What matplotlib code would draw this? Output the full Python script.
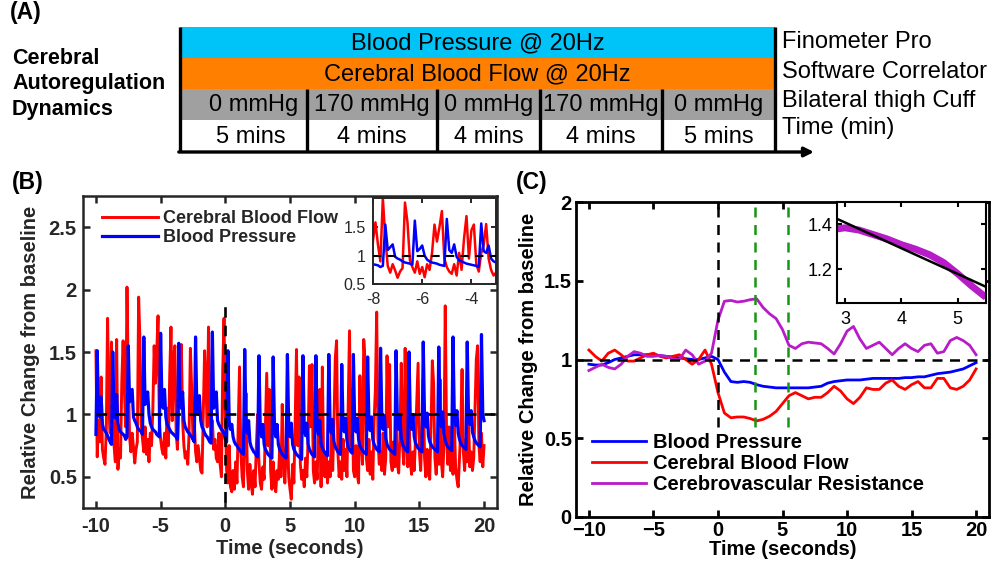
import numpy as np
import matplotlib
matplotlib.use("Agg")
import matplotlib.pyplot as plt
from matplotlib.patches import Rectangle

plt.rcParams['font.family'] = ['Liberation Sans', 'DejaVu Sans']

# ---------------- Panel A (protocol diagram) ----------------
A_bands = ["Blood Pressure @ 20Hz", "Cerebral Blood Flow @ 20Hz"]
A_band_colors = ["#00C4F8", "#FF8000"]
A_pressures = ["0 mmHg", "170 mmHg", "0 mmHg", "170 mmHg", "0 mmHg"]
A_durations = ["5 mins", "4 mins", "4 mins", "4 mins", "5 mins"]
A_right = ["Finometer Pro", "Software Correlator", "Bilateral thigh Cuff", "Time (min)"]
A_left = ["Cerebral", "Autoregulation", "Dynamics"]

# ---------------- Panel B data (20 Hz signals, read at 0.1 s) ----------------
B_time = np.linspace(-10, 20, 301)
B_bp = [
    0.84, 1.51, 1.00, 0.98, 1.14, 0.92, 0.88, 0.87, 0.85, 0.83,
    0.80, 0.78, 0.76, 1.50, 1.02, 0.97, 1.16, 0.93, 0.88, 0.86,
    0.85, 0.84, 0.83, 0.80, 0.82, 1.55, 1.10, 1.15, 1.20, 0.98,
    0.95, 0.93, 0.90, 0.88, 0.87, 0.86, 0.84, 1.62, 1.08, 1.12,
    1.18, 1.00, 0.93, 0.90, 0.88, 0.87, 0.86, 0.84, 0.83, 0.82,
    1.65, 1.10, 1.05, 1.20, 0.98, 0.92, 0.90, 0.88, 0.86, 0.85,
    0.84, 0.83, 0.82, 0.80, 1.57, 1.08, 1.05, 1.18, 0.95, 0.90,
    0.88, 0.86, 0.85, 0.83, 0.82, 0.80, 0.78, 1.62, 1.05, 1.00,
    1.15, 0.95, 0.90, 0.88, 0.85, 0.83, 0.82, 0.80, 0.78, 0.77,
    1.66, 1.05, 1.10, 1.18, 0.95, 0.92, 0.90, 0.88, 0.87, 0.85,
    0.80, 0.78, 1.51, 0.95, 0.88, 0.92, 0.82, 0.78, 0.76, 0.75,
    0.73, 0.72, 0.70, 0.69, 0.68, 1.52, 0.92, 0.85, 0.95, 0.78,
    0.74, 0.72, 0.70, 0.69, 0.67, 0.66, 1.47, 0.90, 0.82, 0.92,
    0.76, 0.72, 0.70, 0.68, 0.67, 0.66, 0.65, 1.46, 0.90, 0.82,
    0.92, 0.76, 0.72, 0.70, 0.68, 0.67, 0.66, 0.65, 1.48, 0.90,
    0.82, 0.93, 0.76, 0.72, 0.70, 0.68, 0.67, 0.66, 0.65, 0.64,
    1.47, 0.90, 0.83, 0.93, 0.76, 0.72, 0.70, 0.68, 0.67, 0.66,
    1.47, 0.92, 0.84, 0.95, 0.77, 0.73, 0.71, 0.69, 0.68, 0.67,
    1.48, 0.92, 0.85, 0.96, 0.78, 0.74, 0.72, 0.70, 0.69, 0.68,
    1.40, 0.92, 0.86, 0.97, 0.79, 0.74, 0.72, 0.70, 0.69, 1.48,
    0.93, 0.86, 0.97, 0.80, 0.75, 0.73, 0.71, 0.70, 0.69, 0.68,
    1.46, 0.94, 0.87, 0.98, 0.80, 0.76, 0.74, 0.72, 0.71, 0.70,
    1.53, 0.95, 0.88, 0.99, 0.81, 0.76, 0.74, 0.72, 0.71, 0.70,
    0.69, 0.68, 1.51, 0.95, 0.88, 0.99, 0.81, 0.76, 0.74, 0.72,
    0.71, 0.70, 1.50, 0.95, 0.88, 1.00, 0.82, 0.77, 0.75, 0.73,
    0.72, 0.71, 0.70, 1.58, 0.97, 0.90, 1.01, 0.83, 0.78, 0.76,
    0.74, 0.73, 0.72, 0.71, 0.70, 1.54, 0.97, 0.90, 1.02, 0.84,
    0.79, 0.76, 0.74, 0.73, 0.72, 0.71, 1.62, 0.98, 0.91, 1.03,
    0.85, 0.80, 0.77, 0.75, 0.74, 0.73, 0.72, 1.58, 0.98, 0.92,
    1.03, 0.86, 0.82, 0.79, 0.77, 0.76, 0.75, 0.74, 1.64, 1.00,
    0.95,
]
B_cbf = [
    1.51, 0.66, 0.95, 0.78, 1.30, 0.72, 0.65, 0.60, 0.88, 1.77,
    1.10, 0.85, 1.58, 0.95, 0.75, 0.62, 1.60, 0.56, 0.72, 0.65,
    1.27, 1.59, 1.20, 0.90, 2.02, 1.30, 0.82, 0.70, 0.85, 0.74,
    0.61, 0.72, 0.78, 1.94, 1.60, 0.92, 0.80, 0.70, 0.90, 0.68,
    0.80, 0.62, 0.85, 0.75, 1.05, 1.55, 1.25, 1.50, 1.79, 0.95,
    0.80, 0.72, 0.68, 0.85, 0.65, 1.05, 0.75, 1.30, 1.70, 0.95,
    1.45, 1.55, 0.85, 0.72, 1.05, 1.20, 1.56, 0.95, 0.75, 0.65,
    0.70, 0.60, 0.85, 1.53, 1.20, 0.80, 0.95, 0.70, 0.62, 0.75,
    0.65, 0.55, 0.53, 1.00, 1.51, 1.25, 0.90, 1.70, 1.10, 0.80,
    0.95, 0.72, 0.80, 0.65, 0.62, 0.85, 0.60, 0.50, 1.35, 1.77,
    1.00, 0.55, 0.45, 0.75, 0.42, 0.38, 0.55, 0.40, 0.62, 0.45,
    0.90, 1.38, 0.70, 0.50, 0.42, 0.85, 1.17, 0.55, 0.40, 0.60,
    0.45, 0.36, 0.55, 0.42, 0.75, 1.00, 0.62, 0.45, 0.40, 0.58,
    0.48, 0.90, 1.33, 0.75, 1.20, 0.55, 0.40, 0.62, 0.45, 0.38,
    0.55, 0.48, 0.72, 0.50, 1.08, 0.65, 0.45, 0.70, 0.88, 0.50,
    0.40, 0.32, 0.60, 0.45, 0.95, 1.52, 0.75, 1.30, 0.60, 0.48,
    0.55, 0.42, 0.65, 0.50, 0.80, 1.39, 0.90, 1.40, 0.55, 0.45,
    0.62, 0.48, 0.90, 1.20, 0.42, 1.38, 0.60, 0.50, 0.70, 0.45,
    0.62, 0.50, 0.85, 0.55, 0.95, 1.45, 1.59, 0.70, 0.50, 0.62,
    0.48, 0.80, 0.55, 0.72, 0.50, 1.10, 1.67, 0.75, 1.20, 0.55,
    0.50, 0.75, 0.52, 0.45, 1.31, 0.80, 0.60, 1.60, 1.43, 0.65,
    0.55, 0.80, 0.52, 0.70, 0.48, 0.95, 1.20, 1.82, 0.80, 0.60,
    0.70, 0.55, 0.85, 0.52, 0.65, 1.47, 0.90, 1.40, 0.62, 0.55,
    0.78, 0.58, 0.90, 0.60, 0.53, 0.85, 1.41, 0.75, 0.60, 1.53,
    0.80, 0.58, 0.95, 0.62, 0.52, 0.70, 0.55, 0.80, 1.10, 1.41,
    0.70, 0.55, 0.85, 1.28, 0.65, 0.50, 0.72, 0.55, 0.48, 0.90,
    1.43, 1.25, 0.65, 0.52, 0.80, 0.60, 1.28, 0.62, 0.50, 0.75,
    1.87, 0.85, 0.60, 0.90, 0.55, 0.70, 0.52, 0.95, 0.58, 0.48,
    0.42, 0.65, 0.90, 1.36, 0.70, 0.55, 0.80, 0.62, 0.95, 0.58,
    0.70, 0.55, 0.65, 1.05, 1.44, 1.55, 0.75, 0.62, 0.85, 0.58,
    0.75,
]
B_xticks = [-10, -5, 0, 5, 10, 15, 20]
B_xticklabels = ['-10', '-5', '0', '5', '10', '15', '20']
B_yticks = [0.5, 1, 1.5, 2, 2.5]
B_yticklabels = ['0.5', '1', '1.5', '2', '2.5']
Bi_xticks = [-8, -6, -4]
Bi_xticklabels = ['-8', '-6', '-4']
Bi_yticks = [0.5, 1, 1.5]
Bi_yticklabels = ['0.5', '1', '1.5']

# ---------------- Panel C data (beat-averaged, read at 0.5 s) ----------------
C_time = np.linspace(-10, 20, 61)
C_bp = [
    0.97, 0.965, 0.965, 0.98, 1.00, 1.01, 1.02, 1.03, 1.03, 1.03,
    1.03, 1.025, 1.02, 1.015, 1.01, 1.005, 1.00, 1.00, 1.01, 1.02,
    1.00, 0.92, 0.86, 0.855, 0.86, 0.855, 0.84, 0.83, 0.825, 0.82,
    0.82, 0.82, 0.82, 0.82, 0.82, 0.825, 0.83, 0.85, 0.86, 0.865,
    0.87, 0.87, 0.87, 0.875, 0.88, 0.88, 0.88, 0.88, 0.88, 0.885,
    0.885, 0.89, 0.89, 0.90, 0.91, 0.915, 0.92, 0.93, 0.94, 0.96,
    0.98,
]
C_cbf = [
    1.06, 1.02, 0.99, 1.04, 1.06, 1.03, 0.99, 0.99, 1.01, 1.03,
    1.04, 1.02, 1.01, 1.02, 1.03, 1.00, 0.97, 1.00, 1.06, 0.97,
    0.79, 0.66, 0.63, 0.635, 0.635, 0.625, 0.61, 0.62, 0.64, 0.67,
    0.72, 0.77, 0.79, 0.77, 0.75, 0.76, 0.76, 0.79, 0.83, 0.80,
    0.75, 0.72, 0.76, 0.82, 0.81, 0.81, 0.85, 0.87, 0.83, 0.81,
    0.84, 0.86, 0.82, 0.82, 0.88, 0.88, 0.82, 0.81, 0.83, 0.87,
    0.94,
]
C_cvr = [
    0.93, 0.95, 0.97, 0.95, 0.94, 0.97, 1.02, 1.05, 1.04, 1.02,
    1.02, 1.025, 1.02, 1.005, 1.00, 1.06, 1.03, 0.97, 0.99, 1.04,
    1.25, 1.37, 1.375, 1.365, 1.37, 1.38, 1.385, 1.33, 1.29, 1.26,
    1.19, 1.09, 1.07, 1.10, 1.11, 1.105, 1.10, 1.07, 1.035, 1.10,
    1.18, 1.21, 1.13, 1.07, 1.09, 1.11, 1.07, 1.03, 1.07, 1.10,
    1.07, 1.05, 1.09, 1.10, 1.04, 1.05, 1.12, 1.14, 1.12, 1.09,
    1.03,
]
C_window = [2.9, 5.45]
C_xticks = [-10, -5, 0, 5, 10, 15, 20]
C_xticklabels = ['\u221210', '\u22125', '0', '5', '10', '15', '20']
C_yticks = [0, 0.5, 1, 1.5, 2]
C_yticklabels = ['0', '0.5', '1', '1.5', '2']

# inset of panel C: resistance during the window and its linear fit
Ci_time = [2.86, 3.0, 3.25, 3.5, 3.75, 4.0, 4.25, 4.5, 4.75, 5.0, 5.25, 5.5]
Ci_cvr = [1.38, 1.385, 1.375, 1.355, 1.335, 1.31, 1.29, 1.265, 1.23, 1.18, 1.125, 1.075]
Ci_fit_t = [2.86, 5.5]
Ci_fit_v = [1.425, 1.122]
Ci_xticks = [3, 4, 5]
Ci_yticks = [1.2, 1.4]
Ci_yticklabels = ['1.2', '1.4']

RED = '#FF0000'
BLUE = '#0000FF'
MAG = '#B81BC8'
GREEN = '#169616'
DARK = '#262626'
DASH = (0, (4, 3))

W, H = 992, 567
fig = plt.figure(figsize=(W / 100, H / 100), dpi=100)

def fax(l, t, r, b):
    return [l / W, (H - b) / H, (r - l) / W, (b - t) / H]

# ---------------- draw panel A in pixel space ----------------
ax0 = fig.add_axes([0, 0, 1, 1])
ax0.set_xlim(0, W)
ax0.set_ylim(H, 0)
ax0.axis('off')
cell_x = [180, 307, 437, 540, 662, 775]
row_y = [27, 58, 89, 120, 152]
for i, (lab, col) in enumerate(zip(A_bands, A_band_colors)):
    ax0.add_patch(Rectangle((cell_x[0], row_y[i]), cell_x[-1] - cell_x[0],
                            row_y[i + 1] - row_y[i], facecolor=col, edgecolor='none'))
    ax0.text((cell_x[0] + cell_x[-1]) / 2, (row_y[i] + row_y[i + 1]) / 2 + 1, lab,
             ha='center', va='center', fontsize=17)
ax0.add_patch(Rectangle((cell_x[0], row_y[2]), cell_x[-1] - cell_x[0],
                        row_y[3] - row_y[2], facecolor='#A0A0A0', edgecolor='none'))
for i in range(5):
    cx = (cell_x[i] + cell_x[i + 1]) / 2
    if i == 0:
        cx += 10
    ax0.text(cx, (row_y[2] + row_y[3]) / 2 + 1, A_pressures[i], ha='center', va='center', fontsize=17)
    ax0.text(cx - (3 if i == 0 else 0), (row_y[3] + row_y[4]) / 2 + 1, A_durations[i],
             ha='center', va='center', fontsize=17)
for x in cell_x[1:-1]:
    ax0.plot([x, x], [row_y[2], row_y[4]], color='black', lw=2.4, solid_capstyle='butt')
for x in [cell_x[0], cell_x[-1]]:
    ax0.plot([x, x], [row_y[0], row_y[4]], color='black', lw=2.4, solid_capstyle='butt')
ax0.annotate('', xy=(814, row_y[4]), xytext=(cell_x[0] - 1.2, row_y[4]),
             arrowprops=dict(arrowstyle='-|>', lw=2.4, color='black', mutation_scale=14,
                             shrinkA=0, shrinkB=0))
for lab, y in zip(A_right, [42, 72, 101, 128]):
    ax0.text(782, y, lab, ha='left', va='center', fontsize=17)
for lab, y in zip(A_left, [58, 84, 110]):
    ax0.text(12, y, lab, ha='left', va='center', fontsize=15.5, fontweight='bold')
ax0.text(10, 13, '(A)', ha='left', va='center', fontsize=16.5, fontweight='bold')
ax0.text(12, 182, '(B)', ha='left', va='center', fontsize=16.5, fontweight='bold')
ax0.text(516, 183, '(C)', ha='left', va='center', fontsize=16.5, fontweight='bold')

def style(ax, color, lw=1.8, length=5):
    for s in ax.spines.values():
        s.set_linewidth(lw)
        s.set_color(color)
    ax.tick_params(direction='in', top=True, right=True, length=length, width=lw, color=color)

# ---------------- panel B ----------------
axB = fig.add_axes(fax(83, 196, 497, 508))
axB.plot(B_time, B_cbf, color=RED, lw=2.1, label='Cerebral Blood Flow')
axB.plot(B_time, B_bp, color=BLUE, lw=2.3, label='Blood Pressure')
axB.plot([-10, 21], [1, 1], color='black', ls=DASH, lw=1.9, zorder=5)
axB.plot([0, 0], [0.3, 1.92], color='black', ls=DASH, lw=1.9, zorder=5)
axB.set_xlim(-11, 21)
axB.set_ylim(0.25, 2.75)
axB.set_xticks(B_xticks, B_xticklabels)
axB.set_yticks(B_yticks, B_yticklabels)
style(axB, DARK)
axB.tick_params(axis='x', pad=6.5)
axB.tick_params(axis='y', pad=4.5)
for t in axB.get_xticklabels() + axB.get_yticklabels():
    t.set_fontsize(14.5)
    t.set_fontweight('bold')
    t.set_color(DARK)
axB.set_xlabel('Time (seconds)', fontsize=14.5, fontweight='bold', color=DARK, labelpad=2)
axB.set_ylabel('Relative Change from baseline', fontsize=14.5, fontweight='bold', color=DARK, labelpad=6)
legB = axB.legend(loc='upper left', bbox_to_anchor=(0.045, 0.955), frameon=False,
                  prop={'weight': 'bold', 'size': 13}, handlelength=3.1, handletextpad=0.3,
                  labelspacing=0.1, borderpad=0, borderaxespad=0)
for t in legB.get_texts():
    t.set_color(DARK)

axBi = fig.add_axes(fax(373, 198, 496, 284))
axBi.plot(B_time, B_cbf, color=RED, lw=1.8)
axBi.plot(B_time, B_bp, color=BLUE, lw=1.8)
axBi.plot([-8, -3], [1, 1], color='black', ls=DASH, lw=1.5, zorder=5)
axBi.set_xlim(-8, -3)
axBi.set_ylim(0.5, 2.02)
axBi.set_xticks(Bi_xticks, Bi_xticklabels)
axBi.set_yticks(Bi_yticks, Bi_yticklabels)
style(axBi, DARK, lw=1.4, length=3.5)
axBi.tick_params(labelsize=11.5, labelcolor=DARK)
axBi.tick_params(axis='x', pad=6)
axBi.tick_params(axis='y', pad=5)

# ---------------- panel C ----------------
axC = fig.add_axes(fax(576, 202, 989, 517))
axC.plot(C_time, C_bp, color=BLUE, lw=2.0, label='Blood Pressure')
axC.plot(C_time, C_cbf, color=RED, lw=2.0, label='Cerebral Blood Flow')
axC.plot(C_time, C_cvr, color=MAG, lw=2.0, label='Cerebrovascular Resistance')
axC.plot([-10.5, 21], [1, 1], color='black', ls=DASH, lw=1.8, zorder=5)
axC.plot([0, 0], [0.57, 2], color='black', ls=DASH, lw=1.8, zorder=5)
for xw in C_window:
    axC.plot([xw, xw], [0.57, 2], color=GREEN, ls=DASH, lw=1.8, zorder=5)
axC.set_xlim(-11, 21)
axC.set_ylim(0, 2)
axC.set_xticks(C_xticks, C_xticklabels)
axC.set_yticks(C_yticks, C_yticklabels)
style(axC, 'black', lw=2.0)
axC.tick_params(axis='x', pad=3)
axC.tick_params(axis='y', pad=3)
for t in axC.get_xticklabels() + axC.get_yticklabels():
    t.set_fontsize(14.5)
    t.set_fontweight('bold')
axC.set_xlabel('Time (seconds)', fontsize=14.5, fontweight='bold', labelpad=0)
axC.set_ylabel('Relative Change from baseline', fontsize=14.5, fontweight='bold', labelpad=4)
axC.legend(loc='upper left', bbox_to_anchor=(0.038, 0.268), frameon=False,
           prop={'weight': 'bold', 'size': 14.5}, handlelength=2.7, handletextpad=0.33,
           labelspacing=0.1, borderpad=0, borderaxespad=0)

axCi = fig.add_axes(fax(837, 202, 986, 303))
axCi.plot(Ci_time, Ci_cvr, color=MAG, lw=5, solid_capstyle='butt')
axCi.plot(Ci_fit_t, Ci_fit_v, color='black', lw=1.8)
axCi.set_xlim(2.86, 5.5)
axCi.set_ylim(1.05, 1.5)
axCi.set_xticks(Ci_xticks)
axCi.set_yticks(Ci_yticks, Ci_yticklabels)
style(axCi, 'black', lw=1.5, length=3.5)
axCi.tick_params(labelsize=13)
axCi.tick_params(axis='x', pad=6)
axCi.tick_params(axis='y', pad=3)

fig.savefig('out.png', dpi=100)
